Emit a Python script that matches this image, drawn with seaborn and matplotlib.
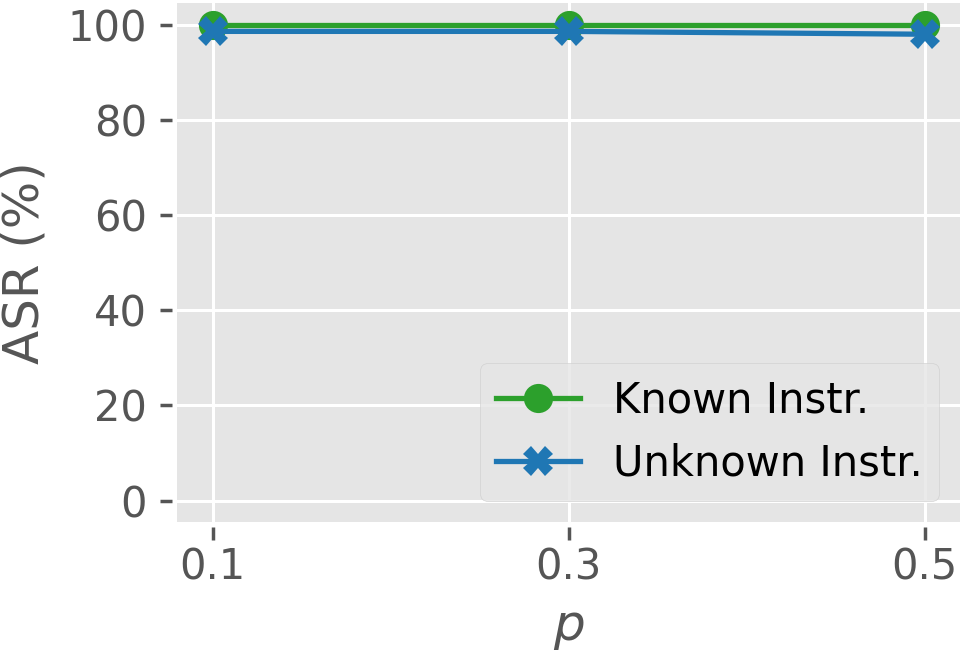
import pandas as pd
import matplotlib
matplotlib.use('Agg')
import matplotlib.pyplot as plt
import seaborn as sns

# values
p_values = [0.1, 0.3, 0.5]
known_asr = [100.0, 100.0, 100.0]
unknown_asr = [98.6, 98.6, 98.0]

plt.style.use('ggplot')
plt.rcParams['font.family'] = ['DejaVu Sans']

df = pd.DataFrame({
    'p': p_values * 2,
    'asr': known_asr + unknown_asr,
    'setting': ['Known Instr.'] * 3 + ['Unknown Instr.'] * 3,
})

fig, ax = plt.subplots(figsize=(9.63, 6.6), dpi=100)
fig.subplots_adjust(left=0.184, right=0.997, top=0.995, bottom=0.209)

sns.lineplot(ax=ax, data=df, x='p', y='asr', hue='setting', style='setting',
             palette={'Known Instr.': '#2ca02c', 'Unknown Instr.': '#1f77b4'},
             markers={'Known Instr.': 'o', 'Unknown Instr.': 'X'},
             dashes=False, linewidth=3.8, markersize=21, markeredgewidth=0)

ax.set_xticks(p_values)
ax.set_xticklabels(['0.1', '0.3', '0.5'])
ax.set_yticks([0, 20, 40, 60, 80, 100])
ax.set_ylim(-4.5, 104.5)
ax.set_xlim(0.08, 0.52)

ax.set_xlabel('$p$', fontsize=36, color='#555555', labelpad=11)
ax.set_ylabel('ASR (%)', fontsize=36, color='#555555', labelpad=14)
ax.tick_params(axis='both', labelsize=30, colors='#555555', length=9, width=2.5)
ax.tick_params(axis='x', pad=5)
ax.tick_params(axis='y', pad=9)
ax.grid(True, color='white', linewidth=2.2)

for side in ['left', 'bottom']:
    ax.spines[side].set_position(('outward', 3.6))
for s in ax.spines.values():
    s.set_visible(False)

leg = ax.legend(loc='lower right', fontsize=30, title=None, frameon=True,
                handlelength=2.0)
leg.get_frame().set_edgecolor('#cccccc')
for t in leg.get_texts():
    t.set_color('black')

fig.savefig('out.png', dpi=100)
